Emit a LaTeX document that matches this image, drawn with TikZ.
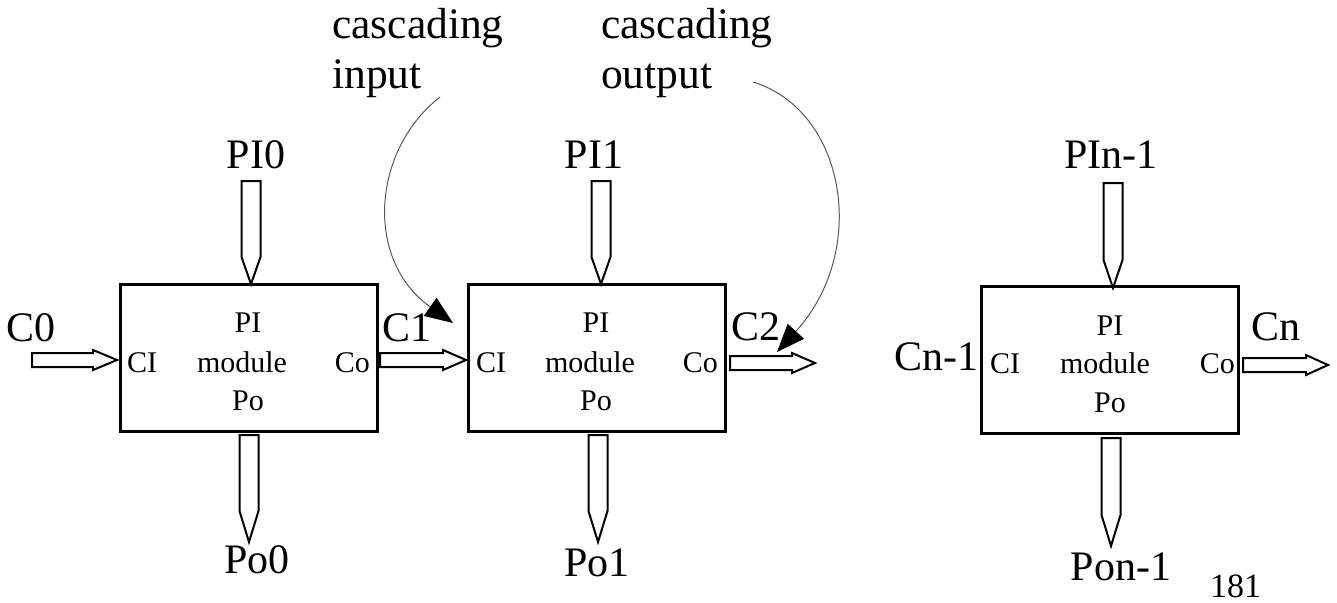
\documentclass[tikz,border=0pt]{standalone}
\usepackage{fontspec}
\setmainfont{Liberation Serif}
\usetikzlibrary{arrows.meta}
\tikzset{
  big/.style={font=\fontsize{42}{50}\selectfont, inner sep=0pt},
  note/.style={font=\fontsize{43.5}{50}\selectfont, inner sep=0pt},
  small/.style={font=\fontsize{30}{36}\selectfont, inner sep=0pt},
  tiny/.style={font=\fontsize{34}{40}\selectfont, inner sep=0pt},
  modbox/.style={draw, line width=3pt, minimum width=257pt, minimum height=147pt, inner sep=0pt},
  fatarrow/.style={draw, line width=2pt, fill=white, line join=miter},
  remark/.style={draw=black!65, line width=1pt, -{Triangle[length=28pt,width=22pt,color=black]}}
}
\newcommand\downfat[4]{%
  \draw[fatarrow] (#1,#2) ++(-9.5,0) -- ++(19,0) -- ++(0,#3) -- ++(-9.5,#4) -- ++(-9.5,-#4) -- cycle;}
\newcommand\rightfat[4]{%
  \draw[fatarrow] (#1,#2) ++(0,-7) -- ++(#3,0) -- ++(0,-3) -- ++(#4,10) -- ++(-#4,10) -- ++(0,-3) -- ++(-#3,0) -- cycle;}
\begin{document}
\begin{tikzpicture}[x=1pt,y=-1pt]
\useasboundingbox (0,0) rectangle (1337,602);

% modules
\node[modbox] (m1) at (248.5,357.5) {};
\node[modbox] (m2) at (596.5,357.5) {};
\node[modbox] (m3) at (1110,360) {};

% module texts
\node[small,anchor=base] (m1pi) at (248,332) {PI};
\node[small,anchor=base] (m1mod) at (242,372) {module};
\node[small,anchor=base] (m1po) at (248,410) {Po};
\node[small,anchor=base west] (m1ci) at (127,372) {CI};
\node[small,anchor=base east] (m1co) at (370,372) {Co};

\node[small,anchor=base] (m2pi) at (596,332) {PI};
\node[small,anchor=base] (m2mod) at (590,372) {module};
\node[small,anchor=base] (m2po) at (596,410) {Po};
\node[small,anchor=base west] (m2ci) at (476,372) {CI};
\node[small,anchor=base east] (m2co) at (718,372) {Co};

\node[small,anchor=base] (m3pi) at (1110,335) {PI};
\node[small,anchor=base] (m3mod) at (1105,373) {module};
\node[small,anchor=base] (m3po) at (1110,412) {Po};
\node[small,anchor=base west] (m3ci) at (990,373) {CI};
\node[small,anchor=base east] (m3co) at (1235,373) {Co};

% top inputs
\node[big,anchor=base] (pi0) at (256,168) {PI0};
\node[big,anchor=base] (pi1) at (594,168) {PI1};
\node[big,anchor=base] (pin) at (1111,168) {PIn-1};
\downfat{251}{181}{76}{27}
\downfat{601}{181}{76}{27}
\downfat{1113}{183}{77}{28}

% bottom outputs
\downfat{249}{435}{76}{31}
\downfat{598}{435}{76}{31}
\downfat{1111}{438}{77}{31}
\node[big,anchor=base] (po0) at (257,573) {Po0};
\node[big,anchor=base] (po1) at (597,576) {Po1};
\node[big,anchor=base] (pon) at (1121,580) {Pon-1};
\node[tiny,anchor=base west] (page) at (1210,597) {181};

% carries
\rightfat{32}{360}{61}{24}
\rightfat{380}{360}{63}{23}
\rightfat{730}{363}{62}{23}
\rightfat{1243}{365}{63}{22}
\node[big,anchor=base west] (c0) at (6,341) {C0};
\node[big,anchor=base west] (c1) at (382,341) {C1};
\node[big,anchor=base west] (c2) at (731,340) {C2};
\node[big,anchor=base west] (cn1) at (894,370) {Cn-1};
\node[big,anchor=base west] (cn) at (1251,340) {Cn};

% annotations
\node[note,anchor=base west] (ci1) at (332,38) {cascading};
\node[note,anchor=base west] (ci2) at (332,88) {input};
\node[note,anchor=base west] (co1) at (601,38) {cascading};
\node[note,anchor=base west] (co2) at (601,88) {output};
\coordinate (ciS) at (440,97);
\coordinate (ciE) at (453,323);
\coordinate (coS) at (753,82);
\coordinate (coE) at (777,352);
\draw[remark] (ciS) .. controls (372,150) and (364,260) .. (ciE);
\draw[remark] (coS) .. controls (845,110) and (870,250) .. (coE);
\end{tikzpicture}
\end{document}
